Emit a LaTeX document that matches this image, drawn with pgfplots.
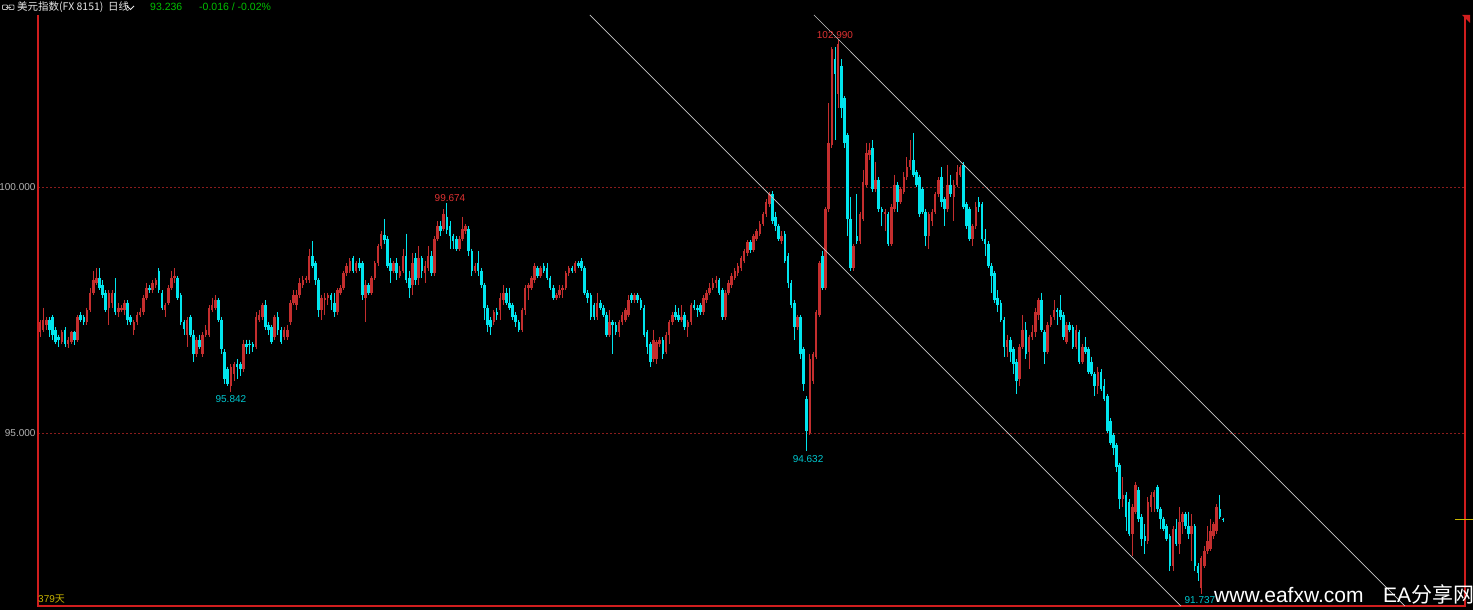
\documentclass[border=0pt]{standalone}
\usepackage{fontspec}
\setmainfont{Liberation Sans}
\newfontfamily\cjk{Noto Sans CJK SC}
\usepackage{pgfplots}
\usepackage{pgfplotstable}
\pgfplotsset{compat=1.18}
\definecolor{upc}{HTML}{C42E2E}
\definecolor{dnc}{HTML}{00E5EE}
\definecolor{brd}{HTML}{D01E1E}
\definecolor{gridc}{HTML}{8A1C1C}
\definecolor{tickc}{HTML}{B4B4B4}
\definecolor{chan}{HTML}{C8C8C8}
\definecolor{grn}{HTML}{00C000}
\definecolor{lblr}{HTML}{E03232}
\definecolor{lblc}{HTML}{00C8D0}
\definecolor{yel}{HTML}{C8B400}
\definecolor{hdr}{HTML}{E6E6E6}

\pgfplotstableread{
o h l c
97.05 97.30 96.95 97.25
97.10 97.55 97.05 97.30
97.20 97.35 97.10 97.30
97.30 97.35 96.95 97.10
97.35 97.40 96.90 97.00
97.10 97.15 96.80 96.85
96.95 97.00 96.75 96.90
96.85 97.10 96.80 97.05
97.10 97.15 96.75 96.80
96.80 96.95 96.72 96.90
96.85 97.08 96.80 97.05
97.05 97.08 96.78 96.90
96.90 97.40 96.85 97.35
97.40 97.45 97.25 97.30
97.35 97.40 97.20 97.25
97.25 97.55 97.20 97.50
97.50 97.95 97.45 97.85
97.85 98.30 97.80 98.10
98.05 98.35 98.00 98.15
98.15 98.35 97.90 97.95
98.00 98.10 97.75 97.80
97.85 97.90 97.45 97.50
97.55 97.90 97.20 97.85
97.65 97.90 97.55 97.85
97.85 98.15 97.40 97.45
97.45 97.65 97.35 97.55
97.50 97.60 97.45 97.55
97.50 97.70 97.40 97.65
97.65 97.70 97.20 97.30
97.35 97.40 97.20 97.25
97.10 97.30 97.00 97.25
97.25 97.45 97.20 97.40
97.40 97.55 97.35 97.45
97.45 97.80 97.40 97.75
97.75 98.05 97.70 97.95
97.95 98.00 97.85 97.90
97.90 98.10 97.85 98.05
98.00 98.15 97.95 98.10
98.30 98.35 97.85 97.90
97.85 97.90 97.50 97.55
97.50 97.65 97.35 97.60
97.65 98.00 97.60 97.95
97.95 98.30 97.90 98.15
98.15 98.35 98.05 98.20
98.15 98.20 97.70 97.75
97.80 97.85 97.20 97.25
97.25 97.30 97.00 97.12
97.00 97.35 96.75 97.30
97.35 97.40 96.95 97.00
97.00 97.10 96.45 96.60
96.60 96.95 96.55 96.90
96.90 97.00 96.70 96.75
96.60 97.05 96.55 97.00
97.00 97.20 96.95 97.10
97.00 97.60 96.95 97.55
97.50 97.75 97.45 97.60
97.55 97.80 97.50 97.70
97.70 97.75 97.25 97.30
97.30 97.35 96.60 96.70
96.65 96.70 96.00 96.10
96.30 96.35 95.95 96.00
95.95 96.40 95.842 96.35
96.20 96.45 96.05 96.40
96.40 96.50 96.10 96.35
96.40 96.45 96.15 96.30
96.30 96.90 96.25 96.80
96.80 96.90 96.60 96.75
96.80 96.90 96.60 96.79
96.80 96.85 96.65 96.75
96.75 97.45 96.70 97.35
97.30 97.50 97.25 97.40
97.35 97.65 97.30 97.60
97.60 97.70 97.10 97.15
97.20 97.25 97.00 97.10
97.15 97.20 96.80 96.85
96.95 97.40 96.90 97.35
97.35 97.45 97.00 97.10
97.10 97.15 96.80 96.85
96.95 97.15 96.90 97.10
96.95 97.20 96.90 97.10
97.25 97.70 97.20 97.65
97.65 97.90 97.60 97.80
97.60 97.90 97.50 97.80
97.80 98.15 97.75 98.05
98.00 98.20 97.95 98.10
98.10 98.20 98.05 98.15
98.10 98.75 98.05 98.60
98.60 98.90 98.35 98.40
98.45 98.50 98.00 98.10
98.10 98.15 97.35 97.50
97.50 97.80 97.30 97.75
97.70 97.85 97.40 97.75
97.75 97.85 97.60 97.80
97.80 97.85 97.50 97.70
97.65 97.85 97.35 97.45
97.45 97.95 97.40 97.90
97.85 98.00 97.80 97.95
97.95 98.30 97.90 98.25
98.25 98.45 98.20 98.40
98.30 98.55 98.25 98.50
98.55 98.60 98.25 98.30
98.30 98.50 98.25 98.45
98.45 98.55 98.30 98.35
98.45 98.50 97.70 97.80
97.75 98.10 97.25 98.00
98.00 98.05 97.80 97.85
97.85 98.20 97.80 98.15
98.15 98.50 98.10 98.45
98.45 98.85 98.40 98.80
98.80 99.10 98.75 99.05
99.02 99.35 98.85 98.92
98.95 99.00 98.35 98.40
98.45 98.55 98.05 98.30
98.30 98.50 98.25 98.45
98.45 98.55 98.10 98.25
98.20 98.40 98.15 98.30
98.30 98.75 98.25 98.60
98.60 99.05 98.05 98.10
98.15 98.30 97.75 97.95
98.00 98.65 97.80 98.45
98.55 98.65 98.00 98.10
98.15 98.80 98.00 98.55
98.55 98.60 98.15 98.30
98.25 98.50 98.05 98.40
98.35 98.80 98.30 98.60
98.60 98.70 98.20 98.25
98.25 99.00 98.20 98.95
98.95 99.30 98.90 99.20
99.20 99.30 99.00 99.10
99.15 99.55 99.10 99.45
99.40 99.674 99.05 99.12
99.20 99.30 98.75 99.00
99.00 99.05 98.75 98.90
98.95 99.00 98.70 98.75
98.75 99.00 98.70 98.95
98.95 99.40 98.90 99.15
99.10 99.25 99.05 99.20
99.15 99.20 98.60 98.70
98.70 98.75 98.20 98.30
98.30 98.45 98.25 98.40
98.45 98.70 98.20 98.30
98.30 98.35 97.95 98.00
98.00 98.05 97.30 97.55
97.55 97.60 97.05 97.20
97.30 97.35 97.00 97.15
97.25 97.50 97.20 97.45
97.45 97.55 97.30 97.40
97.50 97.85 97.30 97.75
97.70 98.00 97.60 97.85
97.85 97.95 97.60 97.65
97.65 97.95 97.50 97.55
97.60 97.65 97.30 97.35
97.40 97.45 97.15 97.25
97.25 97.30 97.05 97.10
97.10 97.55 97.05 97.50
97.50 98.00 97.40 97.95
97.95 98.05 97.70 98.00
97.95 98.20 97.90 98.15
98.10 98.45 98.05 98.40
98.35 98.40 98.15 98.20
98.20 98.40 98.15 98.35
98.40 98.45 98.25 98.30
98.35 98.45 98.10 98.15
98.15 98.20 97.90 97.95
97.95 98.00 97.70 97.75
97.75 97.85 97.70 97.80
97.80 98.00 97.75 97.90
97.90 98.00 97.75 97.95
97.95 98.30 97.90 98.25
98.25 98.40 98.20 98.35
98.35 98.40 98.25 98.30
98.30 98.50 98.25 98.45
98.45 98.50 98.35 98.40
98.50 98.55 98.30 98.35
98.35 98.40 97.80 97.85
97.85 97.90 97.65 97.75
97.80 97.85 97.30 97.35
97.60 97.65 97.30 97.35
97.35 97.85 97.30 97.65
97.65 97.70 97.50 97.55
97.55 97.60 97.35 97.40
97.40 97.45 96.95 97.00
97.00 97.50 96.95 97.25
97.25 97.30 96.60 97.20
97.20 97.25 97.00 97.05
97.05 97.30 96.95 97.25
97.25 97.45 97.20 97.40
97.30 97.55 97.25 97.50
97.40 97.80 97.35 97.70
97.80 97.85 97.65 97.70
97.70 97.85 97.65 97.80
97.80 97.85 97.65 97.70
97.70 97.75 97.50 97.55
97.55 97.60 96.95 97.00
97.05 97.10 96.60 96.75
96.80 96.85 96.35 96.45
96.50 97.10 96.45 96.90
96.50 96.90 96.40 96.85
96.80 96.95 96.75 96.90
96.90 96.95 96.50 96.60
96.65 97.05 96.60 97.00
97.00 97.30 96.80 97.25
97.25 97.45 97.20 97.40
97.45 97.60 97.30 97.35
97.40 97.55 97.25 97.30
97.30 97.60 97.25 97.35
97.40 97.45 97.10 97.15
97.15 97.30 96.95 97.25
97.25 97.65 97.20 97.60
97.60 97.70 97.50 97.55
97.55 97.60 97.35 97.50
97.60 97.65 97.40 97.45
97.45 97.80 97.40 97.75
97.70 97.90 97.65 97.85
97.85 98.05 97.80 97.95
97.95 98.15 97.90 98.05
98.05 98.20 97.95 98.10
98.10 98.15 97.80 97.85
97.90 97.95 97.30 97.35
97.35 97.90 97.30 97.85
97.85 98.10 97.80 98.05
98.00 98.25 97.95 98.20
98.15 98.35 98.10 98.30
98.25 98.45 98.20 98.40
98.35 98.60 98.30 98.55
98.50 98.75 98.45 98.70
98.65 98.92 98.60 98.88
98.88 98.92 98.65 98.72
98.72 99.05 98.68 99.00
98.95 99.15 98.90 99.10
99.05 99.30 99.00 99.25
99.25 99.50 99.20 99.45
99.45 99.75 99.40 99.70
99.65 99.90 99.60 99.85
99.85 99.92 99.25 99.30
99.40 99.50 99.10 99.20
99.20 99.25 98.90 98.95
98.90 99.10 98.85 99.00
99.05 99.10 98.45 98.50
98.60 98.65 97.95 98.05
98.05 98.10 97.55 97.60
97.65 97.70 96.90 97.15
97.15 97.40 97.10 97.35
97.35 97.40 96.50 96.60
96.70 96.75 95.85 96.00
95.70 95.75 94.632 95.05
95.00 96.60 94.95 96.50
96.05 96.65 96.00 96.60
96.55 97.50 96.50 97.45
97.40 98.50 97.35 98.45
98.60 98.70 97.90 97.95
97.95 99.60 97.90 99.55
99.55 101.70 99.50 100.90
100.85 102.85 100.80 102.80
102.60 102.85 100.95 102.30
101.90 102.99 101.60 102.90
102.45 102.60 101.40 101.60
101.80 101.85 100.80 100.90
101.05 101.10 99.00 99.35
99.35 99.80 98.30 98.35
98.35 98.85 98.30 98.80
99.00 99.85 98.85 98.90
98.90 99.50 98.85 99.45
99.35 100.35 99.30 100.10
100.05 100.90 100.00 100.70
100.65 100.90 100.55 100.75
100.80 100.95 99.90 99.95
99.95 100.50 99.90 100.15
100.15 100.20 99.50 99.55
99.55 99.60 99.20 99.50
99.45 99.55 99.10 99.50
99.45 99.50 98.80 98.85
98.85 99.65 98.80 99.60
99.55 100.25 99.50 100.05
100.05 100.10 99.50 99.70
99.70 100.00 99.65 99.95
99.90 100.30 99.85 100.20
100.20 100.60 100.15 100.40
100.40 100.95 100.35 100.55
100.55 101.10 100.20 100.25
100.30 100.35 100.00 100.05
100.20 100.25 99.40 99.45
99.95 100.00 99.45 99.50
99.50 99.55 98.80 99.00
99.00 99.50 98.75 99.45
99.30 99.55 99.20 99.50
99.50 99.90 99.45 99.85
99.85 100.20 99.80 100.15
100.20 100.40 99.60 99.70
99.75 99.80 99.20 99.55
99.55 100.45 99.50 100.05
100.05 100.25 99.80 99.85
99.80 100.15 99.30 100.05
100.05 100.45 100.00 100.30
100.25 100.45 100.20 100.40
100.45 100.50 99.55 99.60
99.65 99.70 99.15 99.20
99.55 99.60 98.90 98.95
98.95 99.25 98.80 99.20
99.20 99.70 99.15 99.60
99.70 99.80 99.50 99.60
99.65 99.70 98.90 98.95
98.95 99.15 98.60 98.85
98.85 98.90 98.35 98.40
98.40 98.45 97.85 98.20
98.25 98.30 97.65 97.70
97.75 97.90 97.45 97.60
97.65 97.70 97.25 97.30
97.30 97.35 96.55 96.75
96.75 97.00 96.55 96.90
96.90 96.95 96.45 96.65
96.70 96.75 96.20 96.40
96.45 96.50 95.80 96.05
96.10 96.80 95.95 96.75
96.75 97.40 96.70 97.10
97.10 97.25 96.50 96.60
96.65 97.00 96.30 96.95
96.95 97.20 96.90 97.05
97.05 97.55 96.95 97.45
97.40 97.75 97.30 97.70
97.70 97.85 97.05 97.10
97.05 97.10 96.40 96.65
96.65 97.25 96.60 97.20
97.20 97.40 97.15 97.35
97.35 97.70 97.30 97.50
97.50 97.55 97.20 97.45
97.50 97.80 97.30 97.35
97.40 97.45 96.90 96.95
96.85 97.25 96.80 97.20
97.20 97.25 97.05 97.10
97.15 97.20 96.70 96.75
96.75 97.20 96.70 97.10
97.05 97.10 96.40 96.45
96.45 96.80 96.40 96.75
96.75 96.95 96.60 96.65
96.70 96.75 96.20 96.25
96.45 96.55 96.15 96.20
96.20 96.25 95.75 95.95
95.95 96.35 95.80 96.25
96.25 96.30 95.85 95.90
95.95 96.10 95.65 95.70
95.75 95.80 95.00 95.05
95.25 95.30 94.75 94.80
94.95 95.00 94.55 94.70
94.75 94.80 94.20 94.30
94.35 94.40 93.45 93.65
93.65 94.10 93.50 93.75
93.75 93.80 93.00 93.30
93.60 93.65 92.90 92.95
92.95 93.55 92.50 93.50
93.40 94.00 93.35 93.95
93.85 93.90 93.20 93.25
93.30 93.35 92.70 92.85
92.90 93.15 92.55 92.80
92.80 93.70 92.75 93.60
93.50 93.80 93.40 93.75
93.70 93.85 93.40 93.80
93.90 93.95 93.40 93.45
93.45 93.50 93.05 93.25
93.25 93.30 93.00 93.05
93.10 93.15 92.80 92.85
92.90 92.95 92.20 92.30
92.30 93.10 92.20 93.05
93.05 93.25 92.70 92.75
92.75 93.50 92.55 93.20
93.20 93.40 92.95 93.35
93.35 93.40 93.05 93.10
93.10 93.40 92.85 92.95
92.95 93.35 92.40 93.10
93.10 93.15 92.20 92.30
92.30 92.35 92.00 92.15
91.85 92.50 91.737 92.45
92.30 92.70 92.25 92.60
92.60 93.10 92.55 92.80
92.65 93.25 92.60 93.00
92.90 93.20 92.85 93.15
93.00 93.55 92.95 93.50
93.45 93.74 93.25 93.30
93.252 93.28 93.19 93.236
}\data
\pgfplotstablecreatecol[create col/expr={\pgfplotstablerow}]{i}\data

\begin{document}
\begin{tikzpicture}
\fill[black] (0,0) rectangle (1473pt,610pt);
\useasboundingbox (0,0) rectangle (1473pt,610pt);
\begin{axis}[
  at={(38pt,4pt)}, anchor=south west,
  scale only axis, width=1427pt, height=591pt,
  xmin=-0.64, xmax=455.3, ymin=91.484, ymax=103.496,
  axis x line*=bottom, axis y line*=left,
  axis line style={draw=none},
  xtick=\empty, ytick={95,100}, yticklabels={95.000,100.000},
  major tick length=0pt,
  yticklabel style={font=\fontsize{10}{12}\selectfont, text=tickc, xshift=1pt},
  ymajorgrids, grid style={draw=gridc, dash pattern=on 2pt off 2pt, line width=0.8pt},
  clip=false,
]
% frame (left, bottom, right)
\addplot[brd, line width=1.2pt, forget plot] coordinates {(-0.64,103.496) (-0.64,91.484) (455.3,91.484) (455.3,103.496)};
% wicks
\addplot[draw=none, mark=none, forget plot,
  restrict expr to domain={\thisrow{c}-\thisrow{o}}{0:100},
  error bars/.cd, y dir=minus, y explicit, error mark=none,
  error bar style={line width=0.9pt, draw=upc}]
  table[x=i, y=h, y error minus expr=\thisrow{h}-\thisrow{l}] {\data};
\addplot[draw=none, mark=none, forget plot,
  restrict expr to domain={\thisrow{o}-\thisrow{c}}{0.000001:100},
  error bars/.cd, y dir=minus, y explicit, error mark=none,
  error bar style={line width=0.9pt, draw=dnc}]
  table[x=i, y=h, y error minus expr=\thisrow{h}-\thisrow{l}] {\data};
% bodies
\addplot[draw=none, mark=none, forget plot,
  restrict expr to domain={\thisrow{c}-\thisrow{o}}{0:100},
  error bars/.cd, y dir=minus, y explicit, error mark=none,
  error bar style={line width=2.6pt, draw=upc}]
  table[x=i, y=c, y error minus expr=\thisrow{c}-\thisrow{o}] {\data};
\addplot[draw=none, mark=none, forget plot,
  restrict expr to domain={\thisrow{o}-\thisrow{c}}{0.000001:100},
  error bars/.cd, y dir=minus, y explicit, error mark=none,
  error bar style={line width=2.6pt, draw=dnc}]
  table[x=i, y=o, y error minus expr=\thisrow{o}-\thisrow{c}] {\data};
% channel lines
\addplot[chan, line width=0.7pt, forget plot] coordinates {(175.7,103.496) (364.5,91.484)};
\addplot[chan, line width=0.7pt, forget plot] coordinates {(247.3,103.496) (436.1,91.484)};
% current price marker
\addplot[yel, line width=1pt, forget plot] coordinates {(452.1,93.236) (457.8,93.236)};
% extreme labels
\node[text=lblr, font=\fontsize{10}{12}\selectfont, inner sep=0] at (axis cs:254.0,103.09) {102.990};
\node[text=lblr, font=\fontsize{10}{12}\selectfont, inner sep=0] at (axis cs:131.0,99.776) {99.674};
\node[text=lblc, font=\fontsize{10}{12}\selectfont, inner sep=0] at (axis cs:61.0,95.691) {95.842};
\node[text=lblc, font=\fontsize{10}{12}\selectfont, inner sep=0] at (axis cs:245.4,94.472) {94.632};
\node[text=lblc, font=\fontsize{10}{12}\selectfont, inner sep=0] at (axis cs:370.6,91.606) {91.737};
\end{axis}
% header
\draw[hdr!80!black, line width=0.8pt, rounded corners=0.8pt] (2.5pt,600.5pt) rectangle (7.5pt,605pt);
\draw[hdr!80!black, line width=0.8pt, rounded corners=0.8pt] (9pt,600.5pt) rectangle (14pt,605pt);
\draw[hdr!80!black, line width=0.8pt] (6pt,602.75pt) -- (10.5pt,602.75pt);
\node[anchor=base west, inner sep=0, text=hdr] at (17pt,599pt) {\cjk\fontsize{10.5}{12}\selectfont 美元指数(FX 8151)};
\node[anchor=base west, inner sep=0, text=hdr] at (108pt,599pt) {\cjk\fontsize{10.5}{12}\selectfont 日线};
\draw[hdr, line width=0.9pt] (127pt,604pt) -- (130.5pt,600.5pt) -- (134pt,604pt);
\node[anchor=base west, inner sep=0, text=grn] at (150pt,599pt) {\fontsize{10.5}{12}\selectfont 93.236};
\node[anchor=base west, inner sep=0, text=grn] at (199pt,599pt) {\fontsize{10.5}{12}\selectfont -0.016 / -0.02\%};
\fill[brd] (1462pt,595pt) -- (1470pt,595pt) -- (1470pt,587pt) -- cycle;
% bottom texts
\node[anchor=base west, inner sep=0, text=yel] at (38pt,7pt) {\fontsize{10}{12}\selectfont 379{\cjk 天}};
\node[anchor=base west, inner sep=0, text=white] at (1214pt,7pt) {\fontsize{21}{24}\selectfont www.eafxw.com};
\node[anchor=base west, inner sep=0, text=white] at (1383pt,7pt) {\fontsize{21}{24}\selectfont EA{\cjk 分享网}};
\end{tikzpicture}
\end{document}
